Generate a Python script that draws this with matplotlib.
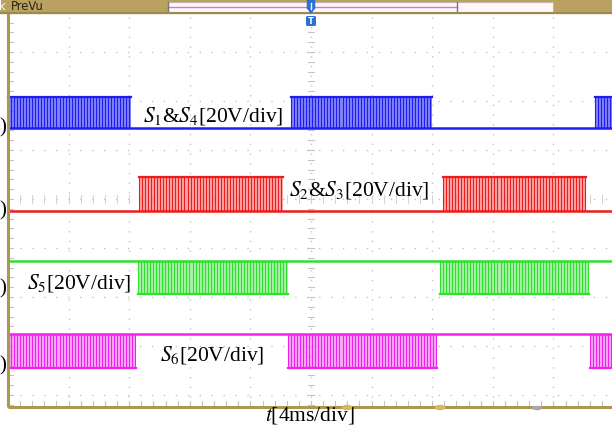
import numpy as np
import matplotlib
matplotlib.use("Agg")
import matplotlib.pyplot as plt
from matplotlib.patches import Rectangle, FancyBboxPatch, Ellipse, Polygon

plt.rcParams["mathtext.fontset"] = "stix"
plt.rcParams["font.family"] = ["Liberation Serif", "DejaVu Serif"]

# ---- scope screen geometry (pixels) ----
W, H = 612, 432
X0_PX, Y0_PX = 311.0, 199.0      # screen centre
DX_PX, DY_PX = 60.6, 49.0        # one division
MS_PER_DIV = 4.0
T_LEFT = -20.0                   # left screen edge, ms
CARRIER_MS = 0.2                 # switching period

# ---- channel data ----
labels = [r"$S_1$&$S_4$[20V/div]", r"$S_2$&$S_3$[20V/div]",
          r"$S_5$[20V/div]", r"$S_6$[20V/div]"]
colors = ["#1e1ef2", "#ee1c1c", "#2fe02f", "#f022f0"]
fills = ["#5a5af6", "#f88a8a", "#8cef8c", "#f78cf7"]
idle_level = [1.45, -0.245, -1.265, -2.755]     # div
pulse_level = [2.08, 0.45, -1.94, -3.45]        # div
ground_marker = [1.45, -0.245, -1.84, -3.40]    # div
blocks = [
    [(-20.0, -11.88), (-1.32, 7.99), (18.75, 21.0)],
    [(-11.35, -1.85), (8.71, 18.15)],
    [(-11.42, -1.52), (8.51, 18.35)],
    [(-20.0, -11.55), (-1.52, 8.32), (18.42, 21.0)],
]
label_pos_px = [(143, 116), (289, 190), (27, 283), (160, 355)]
time_label = r"$t$[4ms/div]"

fig = plt.figure(figsize=(W / 100, H / 100), dpi=100)

# trace axes in ms / divisions
ax = fig.add_axes([0, 0, 1, 1])
ax.set_xlim(-X0_PX / DX_PX * MS_PER_DIV, (W - X0_PX) / DX_PX * MS_PER_DIV)
ax.set_ylim((Y0_PX - H) / DY_PX, Y0_PX / DY_PX)
ax.axis("off")

# overlay in pixels for screen furniture
ov = fig.add_axes([0, 0, 1, 1], zorder=5)
ov.set_xlim(0, W)
ov.set_ylim(H, 0)
ov.axis("off")
ov.patch.set_alpha(0)

grid_c = "#c4c4c4"
tick_c = "#d2d2d2"
x_end = ax.get_xlim()[1]
bottom_div = (Y0_PX - 407) / DY_PX

# dotted graticule
for k in range(1, 10):
    t = T_LEFT + k * MS_PER_DIV
    ax.plot([t, t], [bottom_div, 4.3], color=grid_c, lw=1.0,
            linestyle=(0, (1, 6)), zorder=1)
for k in range(-4, 5):
    ax.plot([T_LEFT, x_end], [k, k], color=grid_c, lw=1.0,
            linestyle=(0, (1, 7.6)), zorder=1)

# minor ticks on centre lines and frame
for yy in np.arange(-4.2, 4.3, 0.2):
    ax.plot([-0.18, 0.18], [yy, yy], color=grid_c, lw=0.8, zorder=1)
    ax.plot([T_LEFT, T_LEFT + 0.3], [yy, yy], color=grid_c, lw=0.8, zorder=1)
for tt in np.arange(T_LEFT, x_end, 0.8):
    ax.plot([tt, tt], [-0.08, 0.08], color=tick_c, lw=0.7, zorder=1)
    ax.plot([tt, tt], [bottom_div, bottom_div + 0.12], color=grid_c, lw=0.8, zorder=1)

# waveforms
for i in range(4):
    c = colors[i]
    lo, hi = idle_level[i], pulse_level[i]
    ax.plot([T_LEFT, x_end], [lo, lo], color=c, lw=1.8, zorder=3,
            solid_capstyle="butt")
    for (a, b) in blocks[i]:
        a = max(a, T_LEFT)
        b = min(b, x_end)
        ax.fill_between([a, b], lo, hi, color=fills[i], lw=0, alpha=0.75, zorder=2)
        edges = np.arange(a, b, CARRIER_MS)
        ax.vlines(edges, min(lo, hi), max(lo, hi), color=c, lw=0.8, zorder=3)
        ax.plot([a, b], [hi, hi], color=c, lw=1.6, zorder=3)
    ax.text(-20.55, ground_marker[i], ")", fontsize=15, color="black",
            ha="left", va="center", zorder=6)

# labels
for lab, (px, py) in zip(labels, label_pos_px):
    ov.text(px, py, lab, fontsize=15.5, color="black", ha="left", va="center")
ov.text(265, 416, time_label, fontsize=15.5, color="black", ha="left", va="center")

# frame
gold = "#ad9650"
ov.plot([8, 8], [13, 407], color=gold, lw=2.2, solid_capstyle="butt")
ov.plot([8, W], [407, 407], color=gold, lw=2.2, solid_capstyle="butt")
for ex in (347, 440):
    ov.add_patch(Ellipse((ex, 407.5), 9, 4, color="#d7b860", zorder=6))
ov.add_patch(Ellipse((537, 408), 9, 3, color="#a8a8a8", zorder=6))

# top status bar
ov.add_patch(Rectangle((0, 0), W, 12.5, color="#b9a162", zorder=4))
ov.add_patch(Rectangle((168, 1.5), 385, 10, facecolor="#fff6f9",
                       edgecolor="#bcb6a8", lw=0.8, zorder=5))
ov.plot([168, 457], [7.2, 7.2], color="#e070e0", lw=1.0, zorder=6)
ov.plot([167.5, 167.5], [1.5, 11.5], color="#777777", lw=1.0, zorder=6)
ov.plot([457, 457], [1.5, 11.5], color="#777777", lw=1.0, zorder=6)
ov.plot([0, W], [13, 13], color="#9c8a4c", lw=1.4, zorder=6)
ov.text(11, 6.5, "PreVu", fontsize=8.3, family="DejaVu Sans", color="#2a2414",
        ha="left", va="center", zorder=7)
ov.text(-1.5, 6.5, "k", fontsize=8.3, family="DejaVu Sans", color="white",
        ha="left", va="center", zorder=7)

# trigger marker
blue = "#2c6fd6"
ov.add_patch(FancyBboxPatch((308, 1), 6, 7, boxstyle="round,pad=0.6",
                            color=blue, zorder=7))
ov.add_patch(Polygon([[307.5, 8], [314.5, 8], [311, 13]], color=blue, zorder=7))
ov.plot([311, 311], [2.5, 8.5], color="white", lw=1.0, zorder=8)
ov.add_patch(FancyBboxPatch((307.5, 17.5), 7, 7, boxstyle="round,pad=0.8",
                            color=blue, zorder=7))
ov.text(311, 21.5, "T", fontsize=6, family="DejaVu Sans", weight="bold",
        color="white", ha="center", va="center", zorder=8)

fig.savefig("out.png", dpi=100)
